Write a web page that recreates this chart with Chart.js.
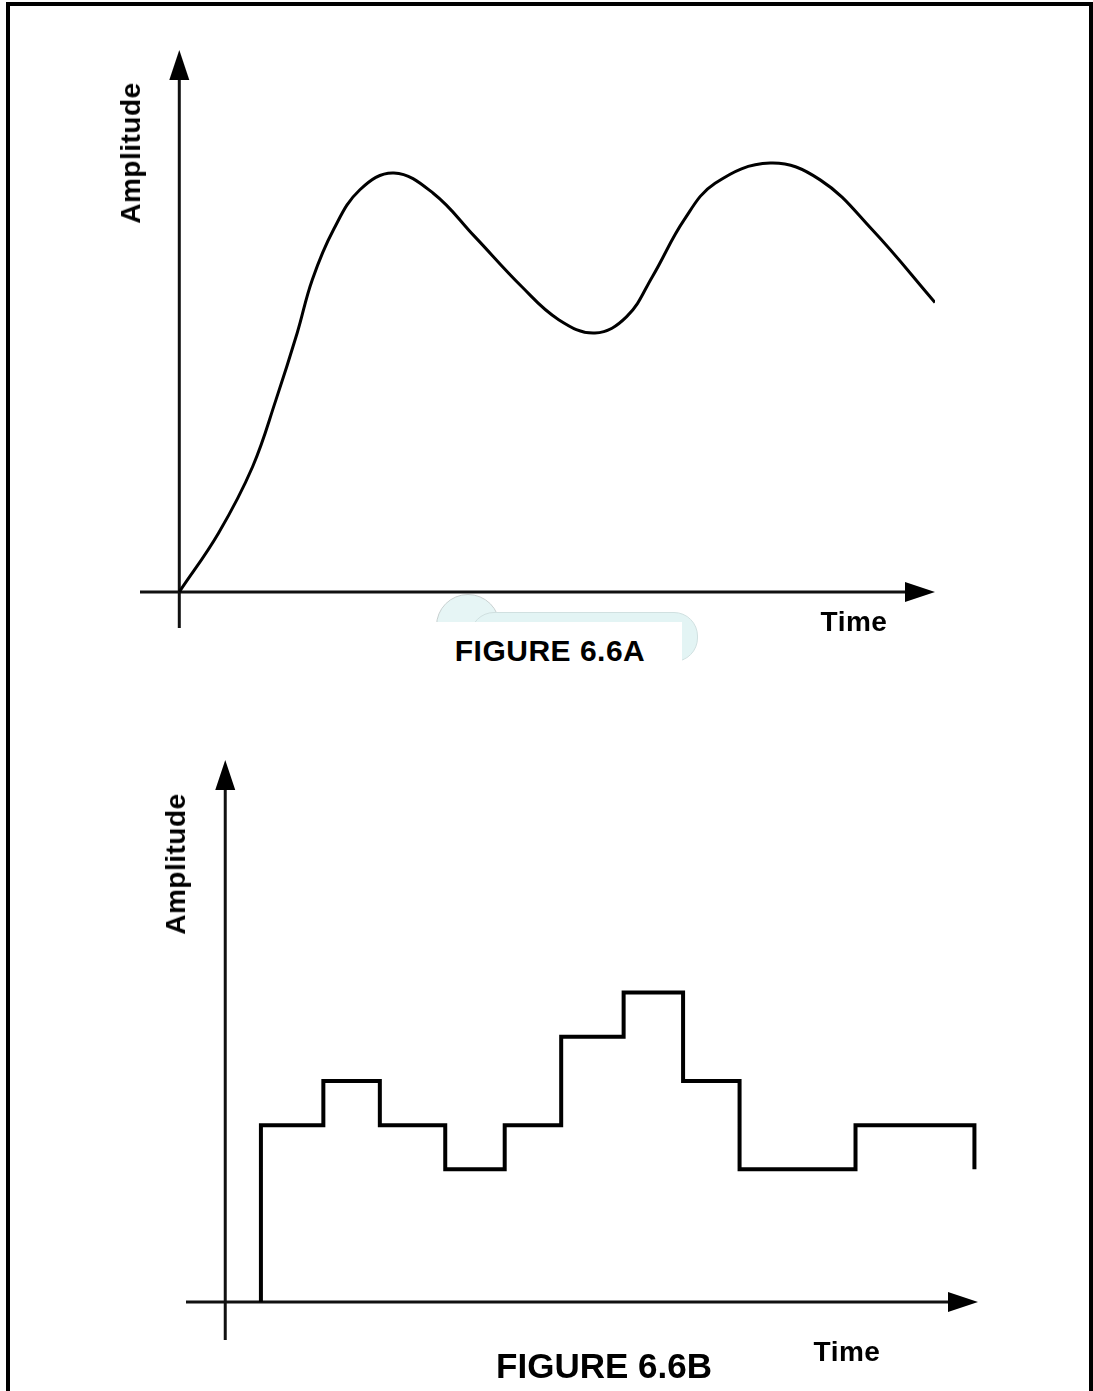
<!DOCTYPE html>
<html lang="en">
<head>
    <meta charset="UTF-8">
    <title>Figure 6.6A / 6.6B</title>
    <script src="https://cdn.jsdelivr.net/npm/chart.js"></script>
    <style>
        html, body {
            margin: 0;
            padding: 0;
            background: #fff;
        }
        body {
            position: relative;
            width: 1093px;
            height: 1391px;
            overflow: hidden;
            font-family: 'Liberation Sans', Arial, sans-serif;
            color: #000;
        }
        .frame {
            position: absolute;
            left: 6px;
            top: 2px;
            right: 0;
            bottom: -20px;
            border-top: 4px solid #000;
            border-left: 4px solid #000;
            border-right: 4px solid #000;
        }
        canvas {
            position: absolute;
            left: 0;
        }
        #chartA { top: 0; }
        #chartB { top: 700px; }
        .label {
            position: absolute;
            font-weight: bold;
            white-space: nowrap;
            transform: translate(-50%, -50%);
        }
        .vertical {
            transform: translate(-50%, -50%) rotate(-90deg);
        }
        .axis-title {
            font-size: 28px;
            letter-spacing: 0.5px;
        }
        .caption {
            font-size: 30px;
            letter-spacing: 0.5px;
        }
        .caption.big {
            font-size: 35px;
            letter-spacing: 0;
        }
        /* faint watermark behind the first caption */
        .wm-pill {
            position: absolute;
            left: 470px;
            top: 612px;
            width: 226px;
            height: 48px;
            border-radius: 24px;
            background: #e3f4f4;
            border: 1px solid #d0e0e0;
        }
        .wm-circle {
            position: absolute;
            left: 436px;
            top: 594px;
            width: 62px;
            height: 62px;
            border-radius: 50%;
            background: #e6f5f5;
            border: 1px solid #c8d0d0;
        }
        .caption-box {
            position: absolute;
            left: 430px;
            top: 622px;
            width: 252px;
            height: 58px;
            background: #fff;
        }
    </style>
</head>
<body>
    <div class="frame"></div>

    <canvas id="chartA" width="1093" height="700"></canvas>
    <canvas id="chartB" width="1093" height="691"></canvas>

    <div class="wm-circle"></div>
    <div class="wm-pill"></div>
    <div class="caption-box"></div>

    <div class="label vertical axis-title" style="left:131px; top:153px;">Amplitude</div>
    <div class="label axis-title" style="left:854px; top:622px;">Time</div>
    <div class="label caption" style="left:550px; top:651px;">FIGURE 6.6A</div>

    <div class="label vertical axis-title" style="left:176px; top:864px;">Amplitude</div>
    <div class="label axis-title" style="left:847px; top:1352px;">Time</div>
    <div class="label caption big" style="left:604px; top:1366px;">FIGURE 6.6B</div>

    <script>
        // Figure A: smooth response curve (time, amplitude)
        const curveTime = [0, 0.52, 0.97, 1.28, 1.56, 1.76, 2.04, 2.39, 2.84, 3.36, 3.91,
                           4.53, 5.02, 5.50, 5.92, 6.26, 6.68, 7.09, 7.82, 8.48, 9.17, 10.0];
        const curveAmplitude = [0, 1.37, 2.91, 4.47, 6.02, 7.26, 8.42, 9.35, 9.74, 9.27, 8.26,
                                7.10, 6.33, 6.02, 6.40, 7.33, 8.65, 9.50, 9.97, 9.58, 8.42, 6.73];

        // Figure B: sampled (step) version - step edges and held levels
        const stepEdges = [0.6, 1.65, 2.6, 3.7, 4.7, 5.65, 6.7, 7.7, 8.65, 10.6, 12.6];
        const stepLevels = [4, 5, 4, 3, 4, 6, 7, 5, 3, 4];
        const stepEndLevel = 3;

        // axis ranges (value space covered by each drawing area)
        const rangeA = { xMin: -0.52, xMax: 10.0, yMin: -0.84, yMax: 12.6 };
        const rangeB = { xMin: -0.66, xMax: 12.66, yMin: -0.86, yMax: 12.26 };

        // draws the two axes through the origin with arrow heads
        const arrowAxes = {
            id: 'arrowAxes',
            beforeDatasetsDraw(chart) {
                const { ctx, chartArea, scales } = chart;
                const x0 = scales.x.getPixelForValue(0);
                const y0 = scales.y.getPixelForValue(0);
                const len = 30, half = 10;

                ctx.save();
                ctx.strokeStyle = '#111';
                ctx.fillStyle = '#000';
                ctx.lineWidth = 3;

                // vertical axis
                ctx.beginPath();
                ctx.moveTo(x0, chartArea.bottom);
                ctx.lineTo(x0, chartArea.top + len - 2);
                ctx.stroke();
                ctx.beginPath();
                ctx.moveTo(x0, chartArea.top);
                ctx.lineTo(x0 - half, chartArea.top + len);
                ctx.lineTo(x0 + half, chartArea.top + len);
                ctx.closePath();
                ctx.fill();

                // horizontal axis
                ctx.beginPath();
                ctx.moveTo(chartArea.left, y0);
                ctx.lineTo(chartArea.right - len + 2, y0);
                ctx.stroke();
                ctx.beginPath();
                ctx.moveTo(chartArea.right, y0);
                ctx.lineTo(chartArea.right - len, y0 - half);
                ctx.lineTo(chartArea.right - len, y0 + half);
                ctx.closePath();
                ctx.fill();

                ctx.restore();
            }
        };

        function baseOptions(range, padding) {
            return {
                responsive: false,
                animation: false,
                events: [],
                layout: { padding: padding },
                scales: {
                    x: { type: 'linear', min: range.xMin, max: range.xMax, display: false },
                    y: { type: 'linear', min: range.yMin, max: range.yMax, display: false }
                },
                plugins: {
                    legend: { display: false },
                    tooltip: { enabled: false }
                }
            };
        }

        // Figure A
        const curvePoints = curveTime.map((t, i) => ({ x: t, y: curveAmplitude[i] }));
        new Chart(document.getElementById('chartA'), {
            type: 'line',
            data: {
                datasets: [{
                    data: curvePoints,
                    borderColor: '#000',
                    borderWidth: 3,
                    pointRadius: 0,
                    fill: false,
                    tension: 0.4
                }]
            },
            options: baseOptions(rangeA, { left: 140, right: 158, top: 50, bottom: 72 }),
            plugins: [arrowAxes]
        });

        // Figure B
        const stepPoints = [{ x: stepEdges[0], y: 0 }];
        stepLevels.forEach((v, i) => stepPoints.push({ x: stepEdges[i], y: v }));
        stepPoints.push({ x: stepEdges[stepEdges.length - 1], y: stepEndLevel });

        new Chart(document.getElementById('chartB'), {
            type: 'line',
            data: {
                datasets: [{
                    data: stepPoints,
                    borderColor: '#000',
                    borderWidth: 4,
                    pointRadius: 0,
                    fill: false,
                    stepped: 'before',
                    borderJoinStyle: 'miter',
                    borderCapStyle: 'butt'
                }]
            },
            options: baseOptions(rangeB, { left: 186, right: 115, top: 60, bottom: 51 }),
            plugins: [arrowAxes]
        });
    </script>
</body>
</html>
